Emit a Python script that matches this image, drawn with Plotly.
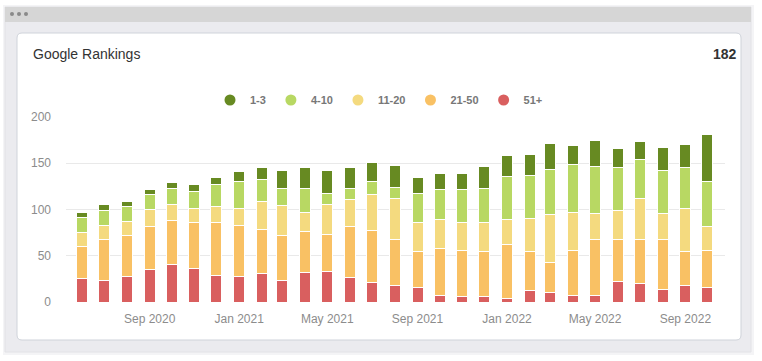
import plotly.graph_objects as go

months = ["2020-06-01","2020-07-01","2020-08-01","2020-09-01","2020-10-01","2020-11-01","2020-12-01",
          "2021-01-01","2021-02-01","2021-03-01","2021-04-01","2021-05-01","2021-06-01","2021-07-01",
          "2021-08-01","2021-09-01","2021-10-01","2021-11-01","2021-12-01","2022-01-01","2022-02-01",
          "2022-03-01","2022-04-01","2022-05-01","2022-06-01","2022-07-01","2022-08-01","2022-09-01",
          "2022-10-01"]

rank_51_plus = [25,23,28,35,41,36,29,28,31,23,32,33,26,21,18,16,7,6,6,4,12,10,7,7,22,20,14,18,16]
rank_21_50   = [35,45,44,47,47,50,57,55,47,49,44,40,56,56,49,38,51,50,49,58,43,33,49,60,46,48,54,36,40]
rank_11_20   = [15,15,15,18,17,15,17,18,31,32,21,32,29,39,45,32,31,30,31,27,35,51,41,28,31,44,27,47,25]
rank_4_10    = [16,16,16,16,17,18,24,29,23,18,25,12,12,14,12,31,32,35,36,46,47,49,51,51,46,42,47,44,49]
rank_1_3     = [6,6,6,5,7,8,7,11,13,20,23,25,22,21,23,17,18,18,24,23,22,28,21,28,21,19,25,25,51]

series = [
    ("51+", rank_51_plus, "#d95f5f"),
    ("21-50", rank_21_50, "#f9c164"),
    ("11-20", rank_11_20, "#f4da7f"),
    ("4-10", rank_4_10, "#b8d863"),
    ("1-3", rank_1_3, "#678a22"),
]

title_text = "Google Rankings"
total_text = "182"

W, H = 762, 361
BAR_W = 15 * 86400000

fig = go.Figure()
for name, vals, col in series:
    fig.add_trace(go.Bar(x=months, y=vals, name=name, marker=dict(color=col, line=dict(color="white", width=1)),
                         width=[BAR_W] * len(months), showlegend=False))
# legend entries with round markers, in display order
for name, vals, col in reversed(series):
    fig.add_trace(go.Scatter(x=[None], y=[None], mode="markers", name=name,
                             marker=dict(color=col, size=11, symbol="circle")))

def px(x):
    return x / W

def py(y):
    return 1 - y / H

shapes = [
    dict(type="rect", xref="paper", yref="paper", x0=px(3), x1=px(754), y0=py(355), y1=py(5),
         fillcolor="#f4f4f6", line=dict(width=0), layer="below"),
    dict(type="rect", xref="paper", yref="paper", x0=px(5), x1=px(751), y0=py(352), y1=py(7),
         fillcolor="#ebebef", line=dict(color="#e2e2e6", width=1), layer="below"),
    dict(type="rect", xref="paper", yref="paper", x0=px(5), x1=px(751), y0=py(22), y1=py(7),
         fillcolor="#d6d6d6", line=dict(width=0), layer="below"),
]
x0, x1, y0, y1, r = 17, 741, 33, 340, 5
def P(x, y):
    return f"{px(x)},{py(y)}"
card_path = (f"M {P(x0+r,y0)} L {P(x1-r,y0)} Q {P(x1,y0)} {P(x1,y0+r)} L {P(x1,y1-r)} "
             f"Q {P(x1,y1)} {P(x1-r,y1)} L {P(x0+r,y1)} Q {P(x0,y1)} {P(x0,y1-r)} L {P(x0,y0+r)} "
             f"Q {P(x0,y0)} {P(x0+r,y0)} Z")
shapes.append(dict(type="path", xref="paper", yref="paper", layer="below", path=card_path,
                   fillcolor="white", line=dict(color="#cfd3da", width=1)))
for cx in (12, 19, 26):
    shapes.append(dict(type="circle", xref="paper", yref="paper", x0=px(cx-2), x1=px(cx+2),
                       y0=py(16), y1=py(12), fillcolor="#8a8a8a", line=dict(width=0)))

fig.update_layout(
    width=W, height=H,
    margin=dict(l=0, r=0, t=0, b=0),
    paper_bgcolor="white", plot_bgcolor="rgba(0,0,0,0)",
    barmode="stack",
    font=dict(family="Liberation Sans, Arial, sans-serif", color="#8c8c8c", size=12),
    shapes=shapes,
    showlegend=True,
    legend=dict(orientation="h", x=px(379), xanchor="center", y=py(100), yanchor="middle",
                font=dict(size=11, color="#777777", family="Liberation Sans, Arial, sans-serif", weight="bold"),
                itemwidth=30, itemsizing="trace", bgcolor="rgba(0,0,0,0)", traceorder="normal"),
    annotations=[
        dict(text=title_text, xref="paper", yref="paper", x=px(31), y=py(54), xanchor="left", yanchor="middle",
             showarrow=False, font=dict(size=14, color="#333333")),
        dict(text="<b>" + total_text + "</b>", xref="paper", yref="paper", x=px(739), y=py(54), xanchor="right",
             yanchor="middle", showarrow=False, font=dict(size=14, color="#333333")),
    ],
    xaxis=dict(domain=[px(66), px(725)], type="date", range=["2020-05-10", "2022-10-25"],
               tick0="2020-09-01", dtick="M4", tickformat="%b %Y", showgrid=False, zeroline=False,
               showline=False, ticks="", ticklabelstandoff=8, automargin=False,
               tickfont=dict(size=12, color="#8c8c8c")),
    yaxis=dict(domain=[py(302), py(116.7)], range=[0, 200], tickvals=[0, 50, 100, 150, 200],
               showgrid=True, gridcolor="#e9e9e9", gridwidth=1, zeroline=False, showline=False,
               ticks="", ticklabelstandoff=14, automargin=False,
               tickfont=dict(size=12, color="#8c8c8c")),
    bargap=0.5,
)

fig.write_html("out.html", config={"displayModeBar": False},
               post_script="document.body.style.margin='0';document.body.style.overflow='hidden';")
